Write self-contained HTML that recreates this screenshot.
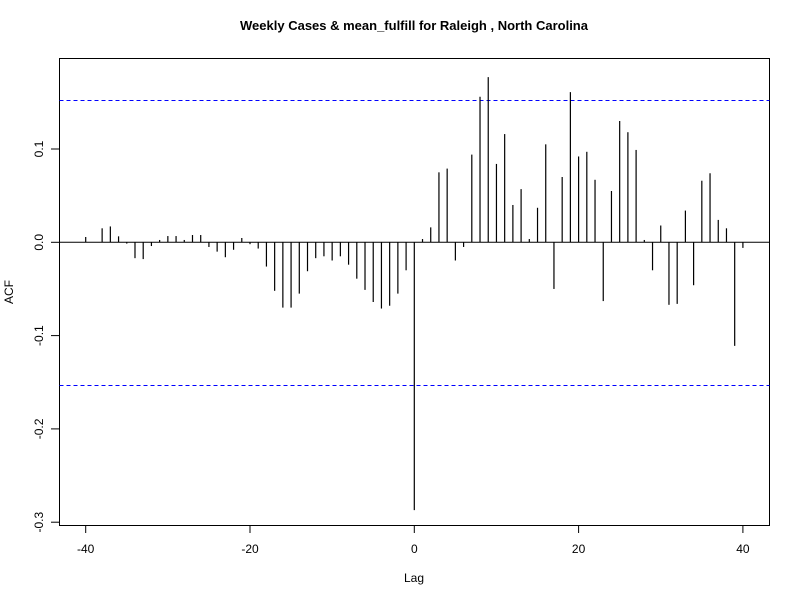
<!DOCTYPE html>
<html><head><meta charset="utf-8"><style>
body{margin:0;background:#fff;}
svg text{font-family:"Liberation Sans",Arial,sans-serif;}
</style></head><body>
<svg id="chart" width="800" height="600" xmlns="http://www.w3.org/2000/svg">
<rect width="800" height="600" fill="#fff"/>
<text x="414" y="30" text-anchor="middle" font-size="13" font-weight="bold">Weekly Cases &amp; mean_fulfill for Raleigh , North Carolina</text>
<rect x="59.5" y="58.5" width="710" height="467" fill="none" stroke="#000"/>
<text x="414" y="582" text-anchor="middle" font-size="12">Lag</text>
<text transform="translate(13,292) rotate(-90)" text-anchor="middle" font-size="12">ACF</text>
<g id="axes"></g>
<g id="marks"></g>
</svg>
<script>
const lags=[];for(let k=-40;k<=40;k++)lags.push(k);
const acfNeg=[0.0057,0,0.015,0.017,0.0064,-0.0014,-0.017,-0.018,-0.004,0.0025,0.0067,0.0067,0.0025,0.0078,0.0078,-0.005,-0.010,-0.016,-0.008,0.0046,-0.002,-0.0067,-0.026,-0.052,-0.070,-0.070,-0.055,-0.031,-0.017,-0.015,-0.0195,-0.015,-0.024,-0.039,-0.051,-0.064,-0.071,-0.068,-0.055,-0.030];
const acfZero=[-0.287];
const acfPos=[0.0035,0.016,0.075,0.079,-0.0195,-0.005,0.094,0.156,0.177,0.084,0.116,0.040,0.057,0.0035,0.037,0.105,-0.050,0.070,0.161,0.092,0.097,0.067,-0.063,0.055,0.130,0.118,0.099,0.0025,-0.030,0.018,-0.067,-0.066,0.034,-0.046,0.066,0.074,0.024,0.015,-0.111,-0.006];
const ciLimit=[0.153];
const xTicks=[-40,-20,0,20,40];
const yTicks=[-0.3,-0.2,-0.1,0.0,0.1];
const yTickLabels=["-0.3","-0.2","-0.1","0.0","0.1"];
const acf=acfNeg.concat(acfZero,acfPos);
const X=v=>414.3+v*8.215;
const Y=v=>242.3-v*933;
const NS="http://www.w3.org/2000/svg";
function mk(tag,attrs,parent){const e=document.createElementNS(NS,tag);for(const k in attrs)e.setAttribute(k,attrs[k]);parent.appendChild(e);return e;}
const ax=document.getElementById('axes'),mg=document.getElementById('marks');
xTicks.forEach(t=>{
 const l=mk('line',{x1:X(t),x2:X(t),y1:526,y2:533,stroke:'#000'},ax);
 
 
 const tx=mk('text',{x:X(t),y:553,'text-anchor':'middle','font-size':'12'},ax);tx.textContent=t;
 
 
});
yTicks.forEach((t,i)=>{
 const y=Y(t);
 const l=mk('line',{x1:51,x2:59.5,y1:y,y2:y,stroke:'#000'},ax);
 
 
 const tx=mk('text',{transform:`translate(43,${y}) rotate(-90)`,'text-anchor':'middle','font-size':'12'},ax);tx.textContent=yTickLabels[i];
 
 
});
const z=mk('line',{x1:59.5,x2:769.5,y1:Y(0),y2:Y(0),stroke:'#000'},mg);


[ciLimit[0],-ciLimit[0]].forEach(c=>{
 const y=Math.round(Y(c))+0.5;
 const l=mk('line',{x1:59.5,x2:769.5,y1:y,y2:y,stroke:'#0000ff','stroke-dasharray':'4,3'},mg);
 
 
});
lags.forEach((k,i)=>{
 const l=mk('line',{x1:X(k),x2:X(k),y1:Y(0),y2:Y(acf[i]),stroke:'#000','stroke-width':1.2},mg);
 
 
});
</script>
</body></html>
